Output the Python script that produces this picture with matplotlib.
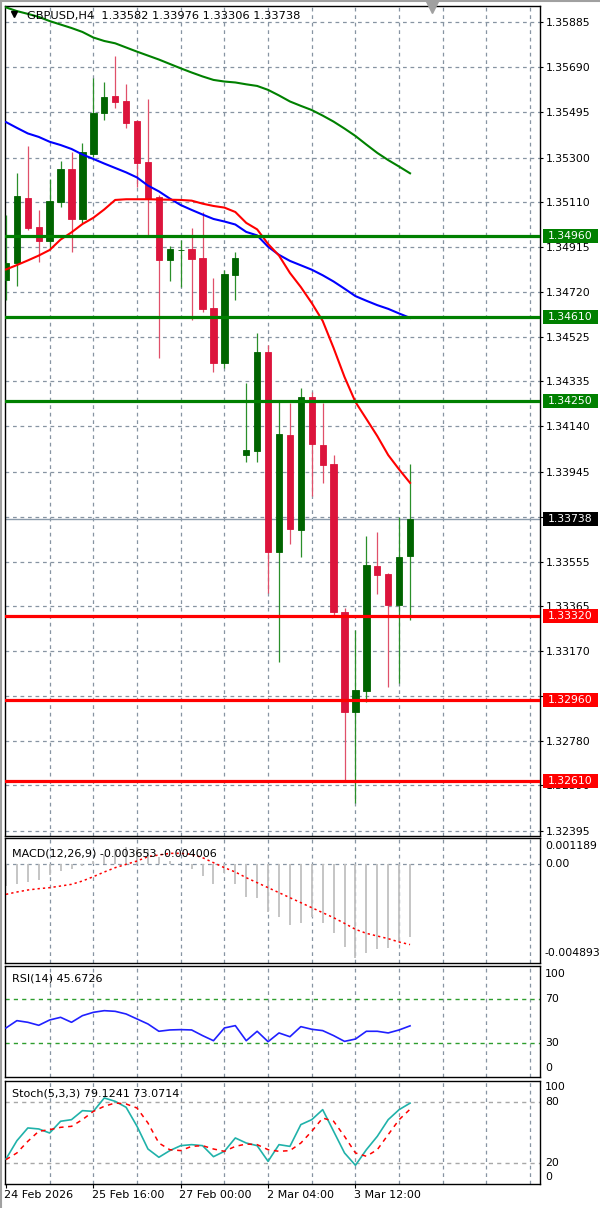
import numpy as np
import matplotlib
matplotlib.use('Agg')
import matplotlib.pyplot as plt
import matplotlib.transforms as mtransforms
from matplotlib.patches import Rectangle
from matplotlib.lines import Line2D

# GBPUSD H4 candles
opens = [1.34772, 1.34846, 1.35127, 1.35002, 1.34941, 1.35110, 1.35249, 1.35035, 1.35315, 1.35491,
         1.35567, 1.35544, 1.35458, 1.35280, 1.35131, 1.34858, 1.34899, 1.34904, 1.34868, 1.34652,
         1.34415, 1.34793, 1.34016, 1.34035, 1.34460, 1.33599, 1.34103, 1.33693, 1.34265, 1.34060,
         1.33978, 1.33338, 1.32909, 1.32999, 1.33537, 1.33503, 1.33369, 1.33582]
highs = [1.35052, 1.35232, 1.35350, 1.35074, 1.35206, 1.35285, 1.35325, 1.35362, 1.35645, 1.35626,
         1.35740, 1.35616, 1.35462, 1.35551, 1.35138, 1.34918, 1.34944, 1.34997, 1.35066, 1.34779,
         1.34815, 1.34891, 1.34326, 1.34544, 1.34491, 1.34246, 1.34240, 1.34304, 1.34290, 1.34240,
         1.34016, 1.33355, 1.33261, 1.33667, 1.33685, 1.33509, 1.33750, 1.33976]
lows = [1.34685, 1.34747, 1.34987, 1.34851, 1.34908, 1.35088, 1.34894, 1.35019, 1.35304, 1.35462,
        1.35515, 1.35429, 1.35174, 1.34958, 1.34434, 1.34769, 1.34743, 1.34599, 1.34635, 1.34376,
        1.34391, 1.34685, 1.33987, 1.33987, 1.33422, 1.33122, 1.33632, 1.33575, 1.33839, 1.33897,
        1.33326, 1.32614, 1.32513, 1.32952, 1.33416, 1.33016, 1.33034, 1.33306]
closes = [1.34846, 1.35134, 1.34997, 1.34940, 1.35114, 1.35249, 1.35035, 1.35325, 1.35491, 1.35560,
          1.35541, 1.35448, 1.35275, 1.35121, 1.34858, 1.34904, 1.34901, 1.34862, 1.34645, 1.34415,
          1.34798, 1.34868, 1.34038, 1.34460, 1.33599, 1.34107, 1.33697, 1.34265, 1.34064, 1.33973,
          1.33338, 1.32909, 1.33002, 1.33542, 1.33499, 1.33369, 1.33578, 1.33738]

# moving averages
ma_green = [1.35948, 1.35932, 1.35920, 1.35907, 1.35889, 1.35874, 1.35859, 1.35842, 1.35818, 1.35803,
            1.35793, 1.35775, 1.35757, 1.35740, 1.35723, 1.35704, 1.35685, 1.35667, 1.35650, 1.35635,
            1.35628, 1.35624, 1.35616, 1.35609, 1.35592, 1.35568, 1.35542, 1.35523, 1.35505, 1.35481,
            1.35455, 1.35425, 1.35393, 1.35356, 1.35320, 1.35289, 1.35261, 1.35232]
ma_blue = [1.35453, 1.35428, 1.35404, 1.35389, 1.35368, 1.35354, 1.35337, 1.35313, 1.35294, 1.35274,
           1.35255, 1.35236, 1.35214, 1.35179, 1.35154, 1.35123, 1.35095, 1.35074, 1.35054, 1.35035,
           1.35024, 1.35011, 1.34979, 1.34964, 1.34915, 1.34880, 1.34854, 1.34835, 1.34816, 1.34792,
           1.34765, 1.34734, 1.34702, 1.34682, 1.34663, 1.34647, 1.34627, 1.34608]
ma_red = [1.34817, 1.34836, 1.34856, 1.34877, 1.34901, 1.34946, 1.34977, 1.35013, 1.35040, 1.35076,
          1.35117, 1.35120, 1.35120, 1.35120, 1.35119, 1.35118, 1.35117, 1.35114, 1.35101, 1.35091,
          1.35084, 1.35065, 1.35018, 1.34990, 1.34927, 1.34877, 1.34802, 1.34741, 1.34672, 1.34595,
          1.34478, 1.34353, 1.34245, 1.34172, 1.34098, 1.34016, 1.33954, 1.33896]

green_levels = [1.34960, 1.34610, 1.34250]
red_levels = [1.33320, 1.32960, 1.32610]
last_price = 1.33738

price_ticks = [1.35885, 1.35690, 1.35495, 1.35300, 1.35110, 1.34915, 1.34720, 1.34525, 1.34335, 1.34140,
               1.33945, 1.33750, 1.33555, 1.33365, 1.33170, 1.32975, 1.32780, 1.32590, 1.32395]
# labels fully covered by the price tags in the original
hidden_ticks = [1.33750, 1.32975]

# MACD(12,26,9)
macd_main = [-0.00111, -0.00103, -0.00090, -0.00082, -0.00057, -0.00035, -0.00026, -0.00012, 0.00010, 0.00040,
             0.00070, 0.00080, 0.00080, 0.00070, 0.00030, 0.00010, 0.00000, -0.00025, -0.00062, -0.00103,
             -0.00045, -0.00099, -0.00164, -0.00168, -0.00240, -0.00264, -0.00304, -0.00292, -0.00266, -0.00292,
             -0.00345, -0.00414, -0.00469, -0.00441, -0.00424, -0.00419, -0.00390, -0.003653]
macd_signal = [-0.001523, -0.001408, -0.001309, -0.001243, -0.001194, -0.001112, -0.001029, -0.000865, -0.000651, -0.000420,
               -0.000206, -0.000041, 0.000124, 0.000338, 0.000420, 0.000502, 0.000502, 0.000453, 0.000288, 0.000041,
               -0.000206, -0.000420, -0.000700, -0.000947, -0.001194, -0.001441, -0.001688, -0.001935, -0.002182, -0.002429,
               -0.002676, -0.002956, -0.003252, -0.003450, -0.003582, -0.003713, -0.003878, -0.004006]

# RSI(14)
rsi = [43.8, 50.4, 48.9, 46.2, 51.0, 53.4, 48.9, 54.9, 57.9, 59.4,
       58.8, 56.4, 51.9, 47.4, 40.8, 42.0, 42.3, 42.0, 36.9, 32.3,
       43.8, 45.9, 32.3, 40.8, 31.4, 39.3, 35.9, 45.0, 42.6, 41.4,
       36.9, 31.7, 33.8, 40.8, 40.8, 39.3, 42.0, 45.7]

# Stochastic(5,3,3)
stoch_k = [23.9, 42.0, 54.6, 53.6, 49.6, 61.2, 62.8, 71.7, 71.0, 84.2,
           80.9, 75.0, 56.2, 33.8, 25.6, 32.2, 37.1, 38.1, 37.1, 26.2,
           31.5, 44.7, 39.7, 37.1, 21.6, 38.1, 36.4, 57.9, 62.8, 72.7,
           51.3, 29.9, 17.7, 33.1, 46.3, 62.8, 72.7, 79.1]
stoch_d = [23.3, 29.9, 41.4, 51.3, 52.9, 55.2, 56.2, 62.8, 71.0, 76.0,
           79.3, 78.3, 74.3, 59.5, 39.7, 33.1, 32.2, 36.4, 37.1, 33.8,
           31.5, 36.4, 38.7, 38.1, 33.1, 31.5, 32.2, 39.7, 51.3, 64.4,
           61.2, 46.3, 29.9, 26.6, 33.1, 48.0, 62.8, 73.1]

date_pos = [0, 8, 16, 24, 32]
date_labels = ['24 Feb 2026', '25 Feb 16:00', '27 Feb 00:00', '2 Mar 04:00', '3 Mar 12:00']

GRID = '#8794a2'
BULL = '#006400'
BEAR = '#dc143c'

W, H = 600, 1208
plt.rcParams['font.family'] = ['DejaVu Sans']
fig = plt.figure(figsize=(W / 100, H / 100), dpi=100)
fig.patch.set_facecolor('white')


def px_box(l, t, r, b):
    return [l / W, 1 - b / H, (r - l) / W, (b - t) / H]


ax = fig.add_axes(px_box(5, 6, 540, 836))
ax_macd = fig.add_axes(px_box(5, 838, 540, 963))
ax_rsi = fig.add_axes(px_box(5, 966, 540, 1077))
ax_sto = fig.add_axes(px_box(5, 1081, 540, 1184))

x = np.arange(len(opens))
o = np.array(opens)
c = np.array(closes)
up = c >= o

for a in (ax, ax_macd, ax_rsi, ax_sto):
    a.set_xlim(-0.09, 48.9)
    a.set_facecolor('white')
    for s in a.spines.values():
        s.set_color('black')
        s.set_linewidth(1.0)
    a.set_xticks(np.arange(4, 49, 4), minor=True)
    a.xaxis.remove_overlapping_locs = False
    a.grid(True, which='minor', axis='x', color=GRID, ls=(0, (3, 3)), lw=0.9)
    a.tick_params(axis='x', which='minor', length=0)
    a.set_axisbelow(True)
    a.set_yticks([])
    a.set_xticks([])

# ---- main price panel
ax.set_ylim(1.32372, 1.35954)
ax.set_yticks(price_ticks)
ax.set_yticklabels(['' if v in hidden_ticks else '%.5f' % v for v in price_ticks])
ax.yaxis.tick_right()
ax.tick_params(axis='y', length=2.5, width=0.8, pad=2, labelsize=7.8, colors='black')
ax.grid(True, which='major', axis='y', color=GRID, ls=(0, (3, 3)), lw=0.9)

ax.axhline(last_price, color='#8a9aaa', lw=1.0, zorder=2)

wick_col = np.where(up, '#2a8f2a', '#e0506a')
body_col = np.where(up, BULL, BEAR)
ax.vlines(x, lows, highs, colors=wick_col, lw=0.9, zorder=3)
body_h = np.maximum(np.abs(c - o), 0.00002)
ax.bar(x, body_h, width=0.58, bottom=np.minimum(o, c), color=body_col,
       edgecolor=body_col, linewidth=0.6, zorder=4)

ax.plot(x, ma_green, color='#008000', lw=1.5, zorder=5)
ax.plot(x, ma_blue, color='#0000ff', lw=1.5, zorder=5)
ax.plot(x, ma_red, color='#ff0000', lw=1.5, zorder=5)

for lv in green_levels:
    ax.axhline(lv, color='#008000', lw=2.3, zorder=6)
for lv in red_levels:
    ax.axhline(lv, color='#ff0000', lw=2.3, zorder=6)

trans = mtransforms.blended_transform_factory(ax.transAxes, ax.transData)
px_price = (1.35954 - 1.32372) / 830.0


def price_tag(val, fc):
    half = 7 * px_price
    ax.add_patch(Rectangle((1 + 3 / 535, val - half), 55 / 535, 2 * half, transform=trans,
                           facecolor=fc, edgecolor='none', clip_on=False, zorder=10))
    ax.text(1 + 7.5 / 535, val, '%.5f' % val, transform=trans, color='white', fontsize=7.8,
            ha='left', va='center', clip_on=False, zorder=11)


for lv in green_levels:
    price_tag(lv, '#008000')
for lv in red_levels:
    price_tag(lv, '#ff0000')
price_tag(last_price, '#000000')

# header
fig.text(27 / W, 1 - 16 / H, 'GBPUSD,H4  1.33582 1.33976 1.33306 1.33738', fontsize=8.2,
         ha='left', va='center', color='black')
ax.plot([(14.5 - 6) / 10.92], [1.35954 - 8 * px_price], marker='v', color='black', ms=5,
        clip_on=False, zorder=12)
ax.plot([(432 - 6) / 10.92], [1.35954 - 1 * px_price], marker='v', color='#a0a0a0', ms=8,
        clip_on=False, zorder=12)

# ---- MACD panel
ax_macd.set_ylim(-0.004915, 0.00126)
ax_macd.axhline(0, color=GRID, ls=(0, (3, 3)), lw=0.9, zorder=1)
ax_macd.vlines(x, 0, macd_main, colors='#c0c0c0', lw=1.3, zorder=2)
ax_macd.plot(x, macd_signal, color='#ff0000', ls=(0, (1.5, 2)), lw=1.1, zorder=3)
ax_macd.text(7 / 535, 0.88, 'MACD(12,26,9) -0.003653 -0.004006', transform=ax_macd.transAxes,
             fontsize=8, ha='left', va='center', zorder=5)
tm = mtransforms.blended_transform_factory(ax_macd.transAxes, ax_macd.transData)
ax_macd.text(1 + 5 / 535, 0, '0.00', transform=tm, fontsize=7.8, ha='left', va='center', clip_on=False)
ax_macd.text(1 + 5 / 535, 0.975, '0.001189', transform=ax_macd.transAxes, fontsize=7.8,
             ha='left', va='top', clip_on=False)
ax_macd.text(1 + 4 / 535, 0.04, '-0.004893', transform=ax_macd.transAxes, fontsize=7.8,
             ha='left', va='bottom', clip_on=False)

# ---- RSI panel
ax_rsi.set_ylim(-0.45, 99.7)
ax_rsi.axhline(70, color='#2e9e2e', ls=(0, (3, 3)), lw=1.0)
ax_rsi.axhline(30, color='#2e9e2e', ls=(0, (3, 3)), lw=1.0)
ax_rsi.plot(x, rsi, color='#2020ff', lw=1.2, zorder=3)
ax_rsi.text(7 / 535, 0.885, 'RSI(14) 45.6726', transform=ax_rsi.transAxes, fontsize=8,
            ha='left', va='center')
tr = mtransforms.blended_transform_factory(ax_rsi.transAxes, ax_rsi.transData)
for v in (70, 30):
    ax_rsi.text(1 + 5 / 535, v, str(v), transform=tr, fontsize=7.8, ha='left', va='center', clip_on=False)
ax_rsi.text(1 + 5 / 535, 0.97, '100', transform=ax_rsi.transAxes, fontsize=7.8, ha='left', va='top', clip_on=False)
ax_rsi.text(1 + 5 / 535, 0.04, '0', transform=ax_rsi.transAxes, fontsize=7.8, ha='left', va='bottom', clip_on=False)

# ---- Stochastic panel
ax_sto.set_ylim(-0.8, 101.0)
ax_sto.axhline(80, color='#a8a8a8', ls=(0, (3, 3)), lw=1.0)
ax_sto.axhline(20, color='#a8a8a8', ls=(0, (3, 3)), lw=1.0)
ax_sto.plot(x, stoch_k, color='#20b2aa', lw=1.2, zorder=3)
ax_sto.plot(x, stoch_d, color='#ff0000', ls=(0, (3, 3)), lw=1.1, zorder=3)
ax_sto.text(7 / 535, 0.88, 'Stoch(5,3,3) 79.1241 73.0714', transform=ax_sto.transAxes, fontsize=8,
            ha='left', va='center')
ts = mtransforms.blended_transform_factory(ax_sto.transAxes, ax_sto.transData)
for v in (80, 20):
    ax_sto.text(1 + 5 / 535, v, str(v), transform=ts, fontsize=7.8, ha='left', va='center', clip_on=False)
ax_sto.text(1 + 5 / 535, 0.995, '100', transform=ax_sto.transAxes, fontsize=7.8, ha='left', va='top', clip_on=False)
ax_sto.text(1 + 5 / 535, 0.02, '0', transform=ax_sto.transAxes, fontsize=7.8, ha='left', va='bottom', clip_on=False)

ax_sto.set_xticks(date_pos)
ax_sto.set_xticklabels(date_labels)
ax_sto.tick_params(axis='x', which='major', length=3, width=0.8, pad=1.5, labelsize=8, colors='black')
for lbl in ax_sto.get_xticklabels():
    lbl.set_ha('left')
    lbl.set_transform(lbl.get_transform() + mtransforms.ScaledTranslation(-1.5 / 100, 0, fig.dpi_scale_trans))

# window border
fig.add_artist(Line2D([0, 1], [1 - 1 / H, 1 - 1 / H], transform=fig.transFigure, color='#a0a0a0', lw=1.5))
fig.add_artist(Line2D([1 / W, 1 / W], [0, 1], transform=fig.transFigure, color='#a0a0a0', lw=1.5))

fig.savefig('out.png', dpi=100, facecolor='white')
